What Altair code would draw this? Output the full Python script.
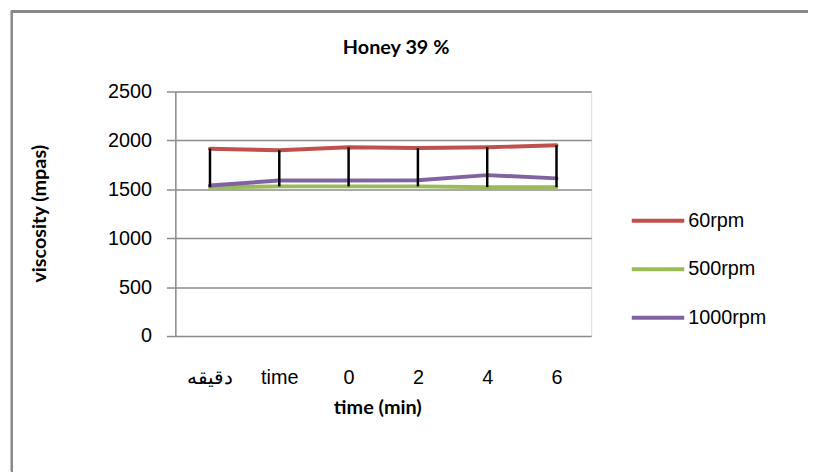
import altair as alt
import pandas as pd

times = ["دقيقه", "time", "0", "2", "4", "6"]
series_names = ["60rpm", "500rpm", "1000rpm"]
rpm60 = [1915, 1900, 1930, 1922, 1930, 1950]
rpm500 = [1522, 1530, 1530, 1530, 1522, 1522]
rpm1000 = [1540, 1590, 1590, 1592, 1645, 1612]
colors = ["#C0504D", "#9BBB59", "#8064A2"]
y_ticks = [0, 500, 1000, 1500, 2000, 2500]

rows = []
for name, vals in zip(series_names, [rpm60, rpm500, rpm1000]):
    for t, v in zip(times, vals):
        rows.append({"time": t, "series": name, "value": v})
df = pd.DataFrame(rows)

W, H = 420, 247
PL, PT = 169, 82
PR = 808 - PL - W
PB = 466 - PT - H

x_enc = alt.X("time:N", sort=times, scale=alt.Scale(type="point", padding=0.5),
              axis=alt.Axis(title="time (min)", labelAngle=0, ticks=False, domain=False,
                            labelPadding=32, labelFontSize=20, labelFont="Liberation Sans",
                            labelColor="#000000", titleFont="Lato", titleFontSize=20,
                            titleFontWeight="bold", titleColor="#000000",
                            titleX=204, titleY=72, titleAlign="center", titleBaseline="middle"))
y_enc = alt.Y("value:Q", scale=alt.Scale(domain=[0, 2500], nice=False),
              axis=alt.Axis(title="viscosity (mpas)", values=y_ticks, format="d", grid=True,
                            gridColor="#8c8c8c", gridWidth=1.5, domainColor="#8c8c8c",
                            domainWidth=1.5, tickColor="#8c8c8c", tickWidth=1.5, tickSize=9,
                            labelPadding=15, labelFontSize=20, labelFont="Liberation Sans",
                            labelColor="#000000", titleFont="Lato", titleFontSize=20,
                            titleFontWeight="bold", titleColor="#000000",
                            titleX=-137, titleY=123, titleAngle=270, titleAlign="center",
                            titleBaseline="middle"))

lines = alt.Chart(df).mark_line(strokeWidth=4, strokeCap="round").encode(
    x=x_enc,
    y=y_enc,
    color=alt.Color("series:N", sort=series_names,
                    scale=alt.Scale(domain=series_names, range=colors),
                    legend=alt.Legend(title=None, orient="none", legendX=459, legendY=106,
                                      symbolType="stroke", symbolSize=2809,
                                      symbolStrokeWidth=4, labelFontSize=20,
                                      labelFont="Liberation Sans", labelColor="#000000",
                                      labelOffset=2, clipHeight=49, rowPadding=0, padding=0)),
)

hilo = alt.Chart(df).transform_aggregate(
    lo="min(value)", hi="max(value)", groupby=["time"]
).mark_rule(color="#000000", strokeWidth=2.5).encode(
    x=alt.X("time:N", sort=times),
    y="lo:Q",
    y2="hi:Q",
)

border_left = alt.Chart(df).mark_rule(color="#898989", strokeWidth=2).encode(
    x=alt.value(-165), y=alt.value(-82), y2=alt.value(H + PB))
border_top = alt.Chart(df).mark_rule(color="#898989", strokeWidth=2).encode(
    x=alt.value(-166), x2=alt.value(W + PR), y=alt.value(-81))

chart = alt.layer(lines, hilo, border_left, border_top).properties(
    width=W, height=H,
    title=alt.TitleParams("Honey 39 %", font="Lato", fontSize=20, fontWeight="bold",
                          color="#000000", anchor="middle", dx=13, offset=0, dy=49),
    autosize=alt.AutoSizeParams(type="none"),
    padding={"left": PL, "top": PT, "right": PR, "bottom": PB},
).configure_view(stroke=None).configure(background="#ffffff")

chart.save("out.html", embed_options={"renderer": "svg", "actions": False})
